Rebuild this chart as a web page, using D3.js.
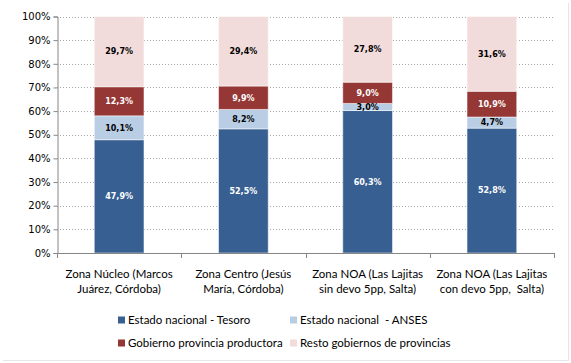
<!DOCTYPE html>
<html>
<head>
<meta charset="utf-8">
<script src="https://cdn.jsdelivr.net/npm/d3@7"></script>
<style>
  body { margin: 0; background: #fff; }
  svg { display: block; }
  text { white-space: pre; }
</style>
</head>
<body>
<svg id="chart" width="571" height="363"></svg>
<script>
// data
const categories = [
	["Zona Núcleo (Marcos", "Juárez, Córdoba)"],
	["Zona Centro (Jesús", "María, Córdoba)"],
	["Zona NOA (Las Lajitas", "sin devo 5pp, Salta)"],
	["Zona NOA (Las Lajitas", "con devo 5pp,  Salta)"]
];
const seriesNames = [
	"Estado nacional - Tesoro",
	"Estado nacional  - ANSES",
	"Gobierno provincia productora",
	"Resto gobiernos de provincias"
];
const tesoro    = [47.9, 52.5, 60.3, 52.8];
const anses     = [10.1, 8.2, 3.0, 4.7];
const provincia = [12.3, 9.9, 9.0, 10.9];
const resto     = [29.7, 29.4, 27.8, 31.6];
const yTicks    = [0, 0.1, 0.2, 0.3, 0.4, 0.5, 0.6, 0.7, 0.8, 0.9, 1];

const colors     = ["#375F92", "#B9CDE5", "#953735", "#F2DCDB"];
const textColors = ["#fff", "#000", "#fff", "#000"];

const svg = d3.select("#chart");
const plot = { left: 57, right: 554, top: 16.5, bottom: 253 };

// chart frame (faint)
svg.append("line").attr("x1", 568.5).attr("x2", 568.5).attr("y1", 3).attr("y2", 360.5)
	.attr("stroke", "#e6e6e6");
svg.append("line").attr("x1", 3).attr("x2", 568.5).attr("y1", 360.5).attr("y2", 360.5)
	.attr("stroke", "#e6e6e6");

const table = categories.map((c, i) => ({
	idx: i, s0: tesoro[i], s1: anses[i], s2: provincia[i], s3: resto[i]
}));
const keys = ["s0", "s1", "s2", "s3"];
const stacked = d3.stack().keys(keys).offset(d3.stackOffsetExpand)(table);

const x = d3.scaleBand().domain(categories.map((c, i) => i))
	.range([plot.left, plot.right]).paddingInner(0.6).paddingOuter(0.3);
const y = d3.scaleLinear().domain([0, 1]).range([plot.bottom, plot.top]);

// gridlines
svg.append("g").selectAll("line").data(yTicks.slice(1)).join("line")
	.attr("x1", plot.left).attr("x2", plot.right)
	.attr("y1", d => Math.round(y(d)) + 0.5).attr("y2", d => Math.round(y(d)) + 0.5)
	.attr("stroke", "#a6a6a6").attr("stroke-dasharray", "1,2");

// bars
const groups = svg.append("g").selectAll("g").data(stacked).join("g")
	.attr("fill", (d, i) => colors[i]);
groups.selectAll("rect").data(d => d).join("rect")
	.attr("x", d => x(d.data.idx))
	.attr("width", x.bandwidth())
	.attr("y", d => y(d[1]))
	.attr("height", d => y(d[0]) - y(d[1]))
	.attr("stroke", "#ffffff").attr("stroke-opacity", 0.5).attr("stroke-width", 1);

// value labels
const fmt = v => v.toFixed(1).replace(".", ",") + "%";
stacked.forEach((layer, si) => {
	const raw = [tesoro, anses, provincia, resto][si];
	svg.append("g").selectAll("text").data(layer).join("text")
		.attr("x", d => x(d.data.idx) + x.bandwidth() / 2)
		.attr("y", d => (y(d[0]) + y(d[1])) / 2)
		.attr("dy", "0.35em")
		.attr("text-anchor", "middle")
		.attr("font-family", "DejaVu Sans")
		.attr("font-weight", "bold")
		.attr("font-size", 8)
		.attr("fill", textColors[si])
		.text(d => fmt(raw[d.data.idx]));
});

// y axis
const yAxis = svg.append("g").attr("transform", `translate(${plot.left + 0.5},0)`)
	.call(d3.axisLeft(y).tickValues(yTicks).tickFormat(d3.format(".0%")).tickSize(4).tickPadding(3));
yAxis.select(".domain").attr("stroke", "#868686");
yAxis.selectAll(".tick line").attr("stroke", "#868686");
yAxis.selectAll(".tick text").attr("font-family", "DejaVu Sans").attr("font-size", 10).attr("fill", "#000");

// x axis
const xAxisG = svg.append("g");
xAxisG.append("line").attr("x1", plot.left).attr("x2", plot.right)
	.attr("y1", plot.bottom + 0.5).attr("y2", plot.bottom + 0.5).attr("stroke", "#868686");
const step = (plot.right - plot.left) / categories.length;
xAxisG.selectAll("line.tk").data(d3.range(categories.length + 1)).join("line")
	.attr("class", "tk")
	.attr("x1", d => Math.round(plot.left + d * step) + 0.5)
	.attr("x2", d => Math.round(plot.left + d * step) + 0.5)
	.attr("y1", plot.bottom).attr("y2", plot.bottom + 5).attr("stroke", "#868686");

const catText = svg.append("g").selectAll("text").data(categories).join("text")
	.attr("x", (d, i) => x(i) + x.bandwidth() / 2)
	.attr("y", 278)
	.attr("text-anchor", "middle")
	.attr("font-family", "Lato")
	.attr("font-size", 11.5)
	.attr("fill", "#000");
catText.selectAll("tspan").data(d => d).join("tspan")
	.attr("x", function () { return this.parentNode.getAttribute("x"); })
	.attr("dy", (d, i) => i === 0 ? 0 : 14.5)
	.text(d => d);

// legend
const legendPos = [[118, 320], [290, 320], [118, 343], [290, 343]];
const legend = svg.append("g").selectAll("g").data(seriesNames).join("g")
	.attr("transform", (d, i) => `translate(${legendPos[i][0]},${legendPos[i][1]})`);
legend.append("rect").attr("x", 0).attr("y", -3.5).attr("width", 7).attr("height", 7)
	.attr("fill", (d, i) => colors[i]);
legend.append("text").attr("x", 10).attr("y", 0).attr("dy", "0.35em")
	.attr("font-family", "Lato").attr("font-size", 11.5).attr("fill", "#000")
	.text(d => d);
</script>
</body>
</html>
